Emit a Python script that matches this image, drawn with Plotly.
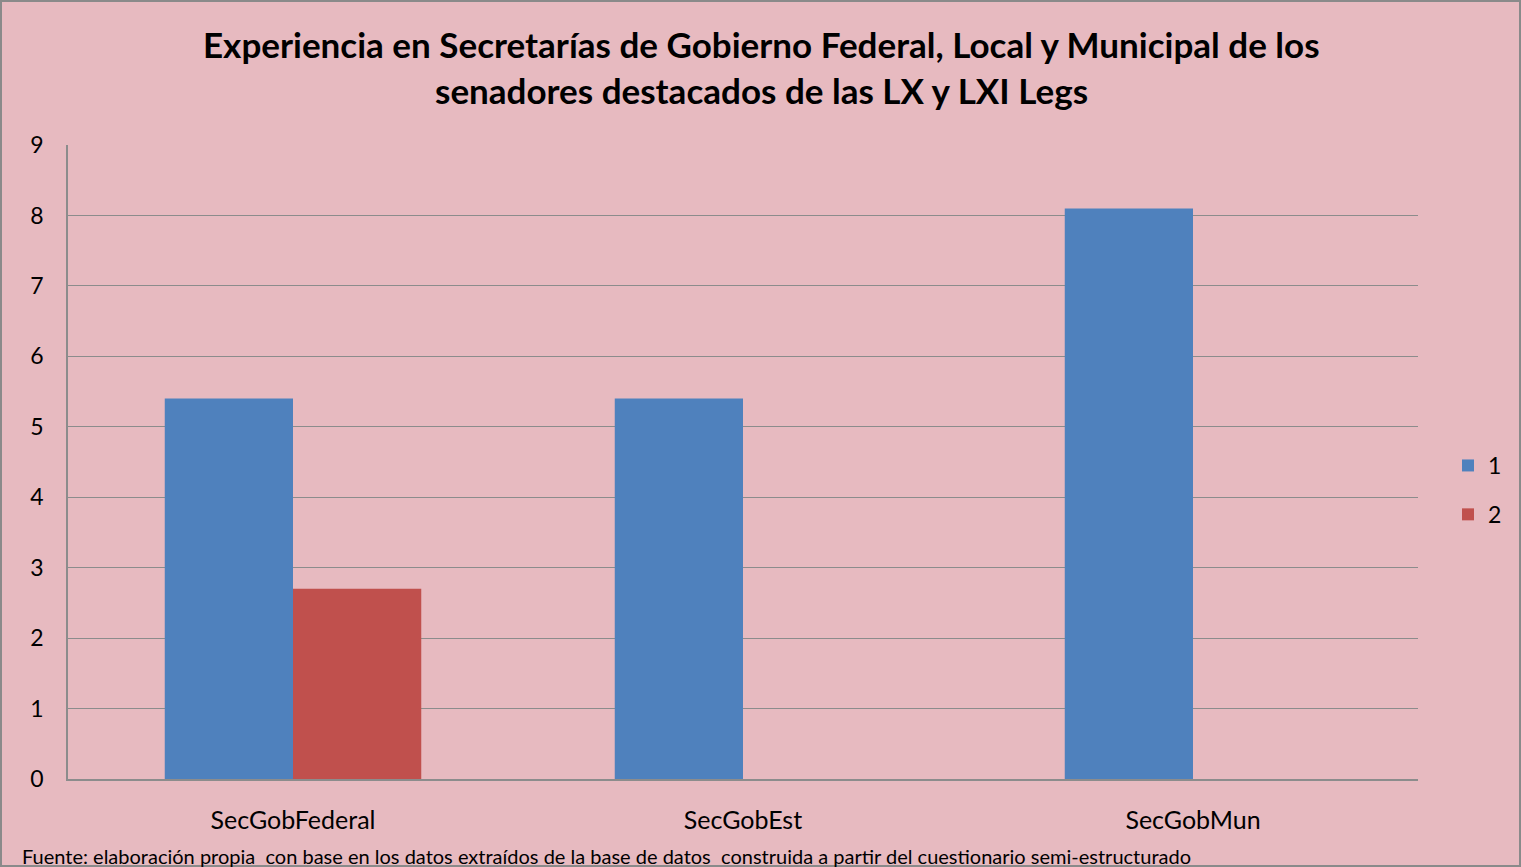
import plotly.graph_objects as go

categories = ["SecGobFederal", "SecGobEst", "SecGobMun"]
series_1 = [5.4, 5.4, 8.1]
series_2 = [2.7, None, None]
series_names = ["1", "2"]
y_ticks = list(range(0, 10))

BG = "#e7bac0"
GRID = "#8c8c8c"
FONT = "Lato, 'Open Sans', sans-serif"

fig = go.Figure()
fig.add_trace(go.Bar(x=categories, y=series_1, name=series_names[0],
                     marker=dict(color="#4f81bd", line=dict(width=0)), legendgroup="a"))
fig.add_trace(go.Bar(x=categories, y=series_2, name=series_names[1],
                     marker=dict(color="#c0504d", line=dict(width=0)), legendgroup="b"))

W, H = 1521, 867
L, R, T, B = 68, 103, 145, 88
pw, ph = W - L - R, H - T - B

def px_y(y):
    return (H - B - y) / ph

def px_x(x):
    return (x - L) / pw

fig.update_layout(
    width=W, height=H,
    paper_bgcolor=BG, plot_bgcolor=BG,
    margin=dict(l=L, r=R, t=T, b=B),
    barmode="group", bargap=0.43, bargroupgap=0,
    font=dict(family=FONT, color="#000000"),
    xaxis=dict(showgrid=False, showline=True, linecolor=GRID, linewidth=1.5,
               tickfont=dict(size=25), ticks="", ticklabelstandoff=18),
    yaxis=dict(range=[0, 9], tickvals=y_ticks, showgrid=True, gridcolor=GRID, gridwidth=1.2,
               showline=True, linecolor=GRID, linewidth=1.5, zeroline=False,
               tickfont=dict(size=23), ticks="", ticklabelstandoff=18),
    legend=dict(x=px_x(1448), y=px_y(490), xanchor="left", yanchor="middle",
                font=dict(size=23), bgcolor="rgba(0,0,0,0)",
                traceorder="grouped", tracegroupgap=16, itemwidth=30),
    showlegend=True,
    shapes=[dict(type="rect", xref="paper", yref="paper",
                 x0=px_x(1), x1=px_x(W - 1),
                 y0=px_y(H - 1), y1=px_y(1),
                 line=dict(color="#8a8a8a", width=2), fillcolor="rgba(0,0,0,0)", layer="below")],
    annotations=[
        dict(text="<b>Experiencia en Secretarías de Gobierno Federal, Local y Municipal de los</b>",
             xref="paper", yref="paper", x=px_x(761), y=px_y(44),
             xanchor="center", yanchor="middle", showarrow=False,
             font=dict(size=35, family=FONT, color="#000000")),
        dict(text="<b>senadores destacados de las LX y LXI Legs</b>",
             xref="paper", yref="paper", x=px_x(761), y=px_y(90),
             xanchor="center", yanchor="middle", showarrow=False,
             font=dict(size=35, family=FONT, color="#000000")),
        dict(text="Fuente: elaboración propia  con base en los datos extraídos de la base de datos  construida a partir del cuestionario semi-estructurado",
             xref="paper", yref="paper", x=px_x(20), y=px_y(856),
             xanchor="left", yanchor="middle", showarrow=False,
             font=dict(size=20, family=FONT, color="#000000")),
    ],
)

fig.write_html("out.html", config={"displayModeBar": False},
               post_script="document.body.style.margin='0';")
